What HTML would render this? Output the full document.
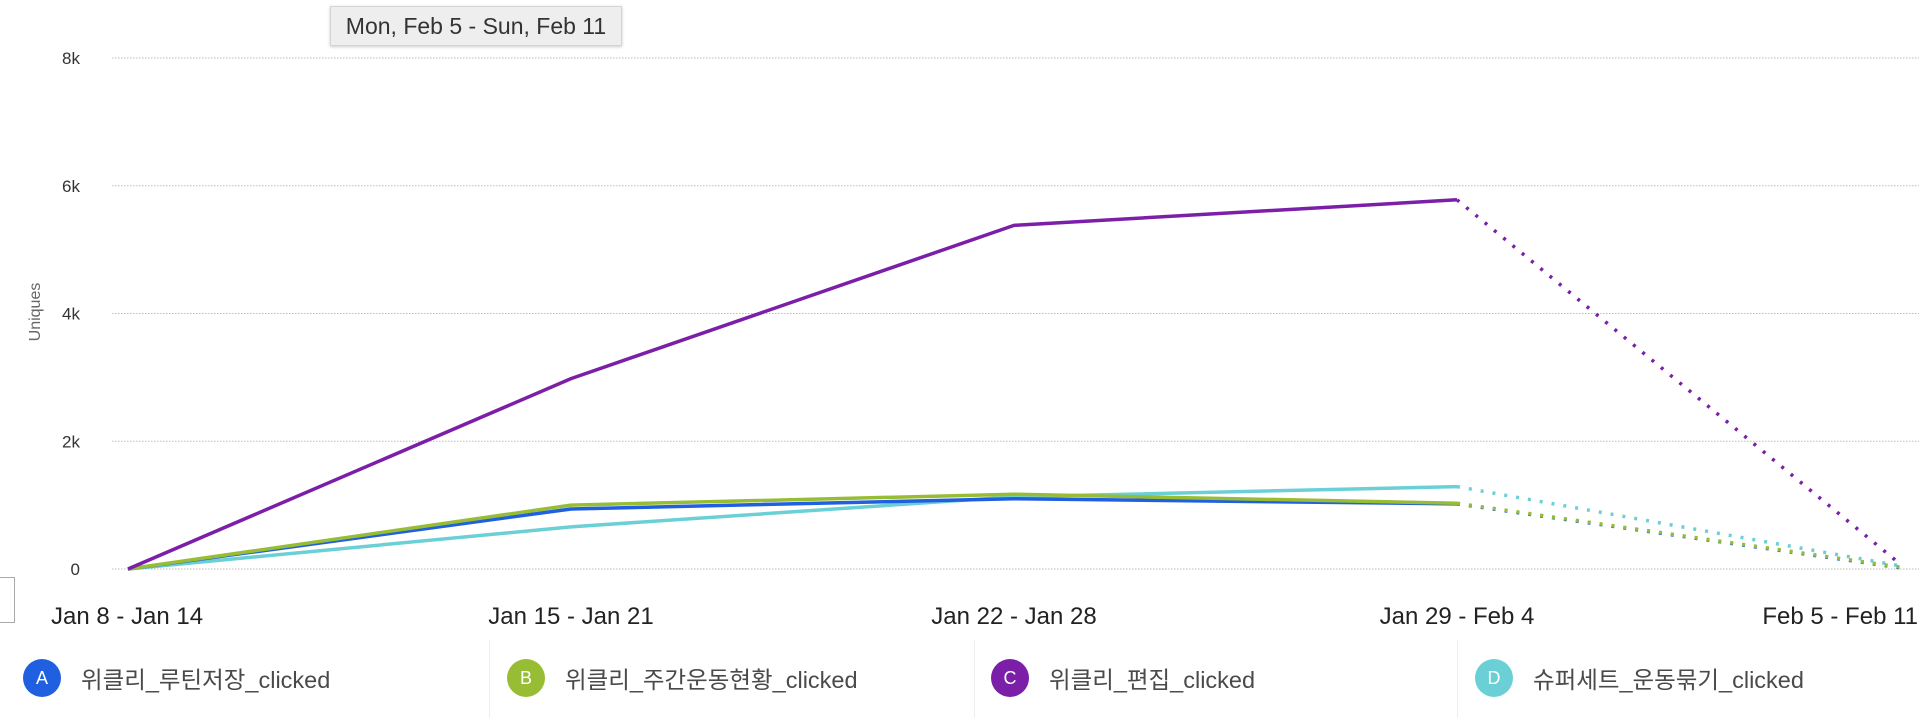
<!DOCTYPE html>
<html><head><meta charset="utf-8"><style>
body{margin:0;width:1932px;height:718px;background:#fff;overflow:hidden;font-family:"Liberation Sans","Noto Sans CJK KR",sans-serif;position:relative}
.leg{position:absolute;top:648px;height:60px;display:flex;align-items:center;font-size:23.5px;color:#4a4a4a}
.dot{width:38px;height:38px;border-radius:50%;color:#fff;font-size:18px;display:flex;align-items:center;justify-content:center;margin-right:20px}
.sep{position:absolute;top:640px;width:1px;height:78px;background:#eee}
</style></head><body>
<svg id="chart" width="1932" height="718" style="position:absolute;left:0;top:0"></svg>
<div style="position:absolute;left:330px;top:6px;width:290px;height:38px;background:#eee;border:1px solid #d4d4d4;box-shadow:0 1px 3px rgba(0,0,0,.2);font-size:23px;color:#333;display:flex;align-items:center;justify-content:center">Mon, Feb 5 - Sun, Feb 11</div>
<div style="position:absolute;left:-2px;top:577px;width:15px;height:44px;border:1px solid #aaa;background:#fff"></div>
<div class="sep" style="left:489px"></div><div class="sep" style="left:974px"></div><div class="sep" style="left:1457px"></div>
<div class="leg" style="left:23px"><div class="dot" style="background:#1f5fe0">A</div>위클리_루틴저장_clicked</div>
<div class="leg" style="left:507px"><div class="dot" style="background:#97bd35">B</div>위클리_주간운동현황_clicked</div>
<div class="leg" style="left:991px"><div class="dot" style="background:#7b1fa8">C</div>위클리_편집_clicked</div>
<div class="leg" style="left:1475px"><div class="dot" style="background:#6bd0d6">D</div>슈퍼세트_운동묶기_clicked</div>
<script>
const categories=["Jan 8 - Jan 14","Jan 15 - Jan 21","Jan 22 - Jan 28","Jan 29 - Feb 4","Feb 5 - Feb 11"];
const yTicks=[0,2000,4000,6000,8000];
const yTickLabels=["0","2k","4k","6k","8k"];
const seriesA=[0,940,1100,1020,20];
const seriesB=[0,1000,1170,1030,30];
const seriesC=[0,2980,5380,5780,80];
const seriesD=[0,660,1130,1290,50];
const svg=document.getElementById('chart');const NS='http://www.w3.org/2000/svg';
const x=i=>128+i*(1900-128)/(categories.length-1);
const y=v=>569-v*(569-58)/8000;
function mk(t,a){const e=document.createElementNS(NS,t);for(const k in a)e.setAttribute(k,a[k]);svg.appendChild(e);return e;}
yTicks.forEach((v,i)=>{const g=mk('line',{x1:112,x2:1919,y1:y(v),y2:y(v),stroke:'#bbb','stroke-dasharray':'1.5 1.5'});


const t=mk('text',{x:80,y:y(v)+6,'text-anchor':'end','font-size':17,fill:'#333'});t.textContent=yTickLabels[i];

});
categories.forEach((c,i)=>{const anchor=i==0?'start':(i==categories.length-1?'end':'middle');const t=mk('text',{x:i==0?51:(i==categories.length-1?1918:x(i)),y:624,'text-anchor':anchor,'font-size':24,fill:'#222'});t.textContent=c;

});
const yt=mk('text',{transform:'translate(40,312) rotate(-90)','text-anchor':'middle','font-size':16,fill:'#666'});yt.textContent='Uniques';


[[seriesD,'#6bd0d6','d'],[seriesA,'#1f5fe0','a'],[seriesB,'#97bd35','b'],[seriesC,'#7b1fa8','c']].forEach(([s,col,n])=>{
const n1=s.length-1;
const solid=s.slice(0,n1).map((v,i)=>x(i)+','+y(v)).join(' ');
const p=mk('polyline',{points:solid,fill:'none',stroke:col,'stroke-width':3.5,'stroke-linejoin':'round'});


const d=mk('line',{x1:x(n1-1),y1:y(s[n1-1]),x2:x(n1),y2:y(s[n1]),stroke:col,'stroke-width':3.5,'stroke-dasharray':'3 9'});


});
</script>
</body></html>
